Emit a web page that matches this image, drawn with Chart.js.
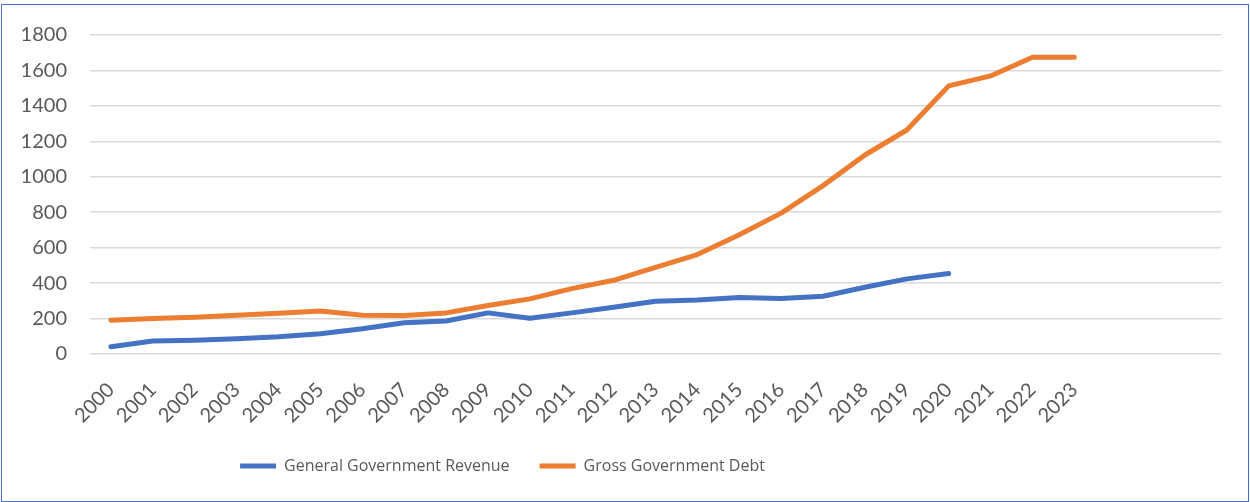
<!DOCTYPE html>
<html>
<head>
<meta charset="utf-8">
<script src="https://cdn.jsdelivr.net/npm/chart.js@4"></script>
<style>
html, body { margin: 0; padding: 0; background: #fff; }
#wrap { position: relative; width: 1250px; height: 502px; }
#frame { position: absolute; left: 1px; top: 4px; width: 1246px; height: 496px; border: 1px solid #4472C4; pointer-events: none; }
canvas { position: absolute; left: 0; top: 0; }
</style>
</head>
<body>
<div id="wrap">
<canvas id="chart" width="1250" height="502"></canvas>
<div id="frame"></div>
</div>
<script>

// years on the axis (last three slots are empty in the original)
const years = ["2000","2001","2002","2003","2004","2005","2006","2007","2008","2009","2010","2011","2012","2013","2014","2015","2016","2017","2018","2019","2020","2021","2022","2023","","",""];

const revenue = [41,73,77,86,97,114,142,176,186,232,202,232,264,298,305,319,313,326,377,424,454,null,null,null,null,null,null];

const debt = [191,200,208,218,230,242,219,217,232,274,311,369,416,489,561,673,795,950,1123,1264,1513,1569,1674,1675,null,null,null];

const tickFont = { family: "Lato, 'Open Sans', sans-serif", size: 20 };
const grey = "#595959";

// the legend in the original sits left of centre
const legendShift = {
id: "legendShift",
afterLayout(chart) {
const lg = chart.legend;
if (!lg) return;
lg.left -= 118;
lg.right -= 118;
}
};

const ctx = document.getElementById("chart");

new Chart(ctx, {
type: "line",
data: {
labels: years,
datasets: [
{
label: "General Government Revenue",
data: revenue,
borderColor: "#4472C4",
backgroundColor: "#4472C4",
borderWidth: 5,
borderCapStyle: "round",
borderJoinStyle: "round",
pointRadius: 0,
pointStyle: "line",
tension: 0
},
{
label: "Gross Government Debt",
data: debt,
borderColor: "#ED7D31",
backgroundColor: "#ED7D31",
borderWidth: 5,
borderCapStyle: "round",
borderJoinStyle: "round",
pointRadius: 0,
pointStyle: "line",
tension: 0
}
]
},
plugins: [legendShift],
options: {
responsive: false,
animation: false,
layout: { padding: { left: 20, right: 29, top: 31, bottom: 18 } },
plugins: {
tooltip: { enabled: false },
legend: {
position: "bottom",
labels: {
usePointStyle: true,
pointStyleWidth: 36,
padding: 30,
color: grey,
font: { family: "'Liberation Sans Narrow', 'Open Sans', sans-serif", size: 16 }
}
}
},
scales: {
x: {
offset: true,
grid: { display: false },
border: { display: false },
ticks: {
color: grey,
font: tickFont,
minRotation: 45,
maxRotation: 45,
autoSkip: false,
padding: 16
},
afterFit: s => { s.height = 74; }
},
y: {
min: 0,
max: 1800,
grid: { color: "#d9d9d9", lineWidth: 1.5, drawTicks: false },
border: { display: false },
ticks: {
stepSize: 200,
color: grey,
font: tickFont,
padding: 23,
callback: v => String(v)
},
afterFit: s => { s.width = 70; }
}
}
}
});

</script>
</body>
</html>
